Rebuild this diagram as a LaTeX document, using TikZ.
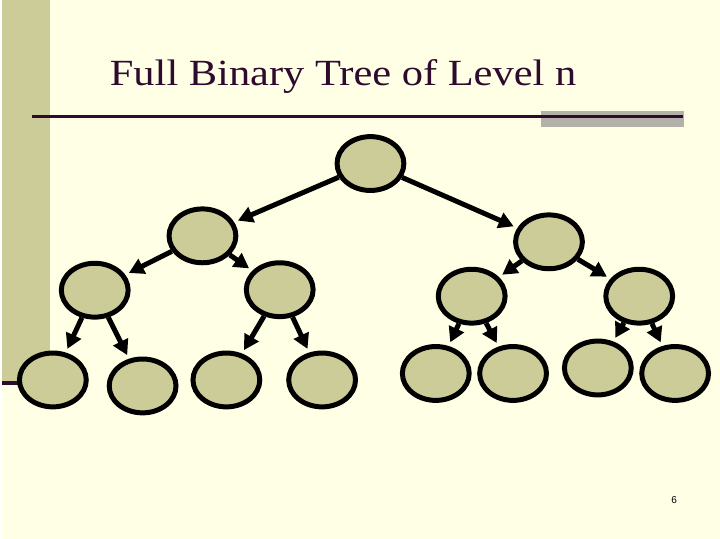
\documentclass[tikz,border=0pt]{standalone}
\usepackage{fontspec}
\setmainfont{Liberation Serif}
\newfontfamily\titlefont[FakeStretch=1.15]{Liberation Serif}
\newfontfamily\pagefont{Liberation Sans}
\usetikzlibrary{arrows.meta,shapes.geometric}
\definecolor{slidebg}{HTML}{FFFFE5}
\definecolor{khaki}{HTML}{CCCC99}
\definecolor{plum}{HTML}{2E0A2E}
\definecolor{bargray}{HTML}{B2B2A9}
\begin{document}
\begin{tikzpicture}[
    x=1pt, y=-1pt,
    treenode/.style={draw, fill=khaki, ellipse, line width=5pt, minimum width=67pt, minimum height=54pt, inner sep=0pt},
    arrow/.style={-{Triangle[length=15pt, width=16pt]}, line width=5pt, shorten >=4pt}
]
% Slide background, side bar and title rule
\fill[slidebg] (0,0) rectangle (720,540);
\fill[khaki] (0,0) rectangle (48,382);
\draw[plum, line width=4pt] (0,384) -- (48,384);
\fill[bargray] (540,111) rectangle (684,127);
\draw[plum, line width=3pt] (30,117) -- (683,117);
\node[anchor=base west, text=plum, font=\titlefont\fontsize{37}{44}\selectfont, inner sep=0pt] (title) at (108,86) {Full Binary Tree of Level n};
\node[font=\pagefont\fontsize{10}{12}\selectfont, inner sep=0pt] (page) at (674,501.5) {6};
% Tree nodes, level by level
\node[treenode] (root) at (369.5,164) {};
\node[treenode] (l) at (201,236.5) {};
\node[treenode] (r) at (548.5,242.5) {};
\node[treenode] (ll) at (93,291) {};
\node[treenode] (lr) at (278.5,290.5) {};
\node[treenode] (rl) at (471,297) {};
\node[treenode] (rr) at (639,297) {};
\node[treenode] (lll) at (51,381) {};
\node[treenode] (llr) at (141,387) {};
\node[treenode] (lrl) at (225,381) {};
\node[treenode] (lrr) at (321,381) {};
\node[treenode] (rll) at (435,374.5) {};
\node[treenode] (rlr) at (512.5,374.5) {};
\node[treenode] (rrl) at (597.5,369) {};
\node[treenode] (rrr) at (675,374.5) {};
% Arrows
\draw[arrow] (root) -- (l);
\draw[arrow] (root) -- (r);
\draw[arrow] (l) -- (ll);
\draw[arrow] (l) -- (lr);
\draw[arrow] (r) -- (rl);
\draw[arrow] (r) -- (rr);
\draw[arrow] (ll) -- (lll);
\draw[arrow] (ll) -- (llr);
\draw[arrow] (lr) -- (lrl);
\draw[arrow] (lr) -- (lrr);
\draw[arrow] (rl) -- (rll);
\draw[arrow] (rl) -- (rlr);
\draw[arrow] (rr) -- (rrl);
\draw[arrow] (rr) -- (rrr);
\end{tikzpicture}
\end{document}
